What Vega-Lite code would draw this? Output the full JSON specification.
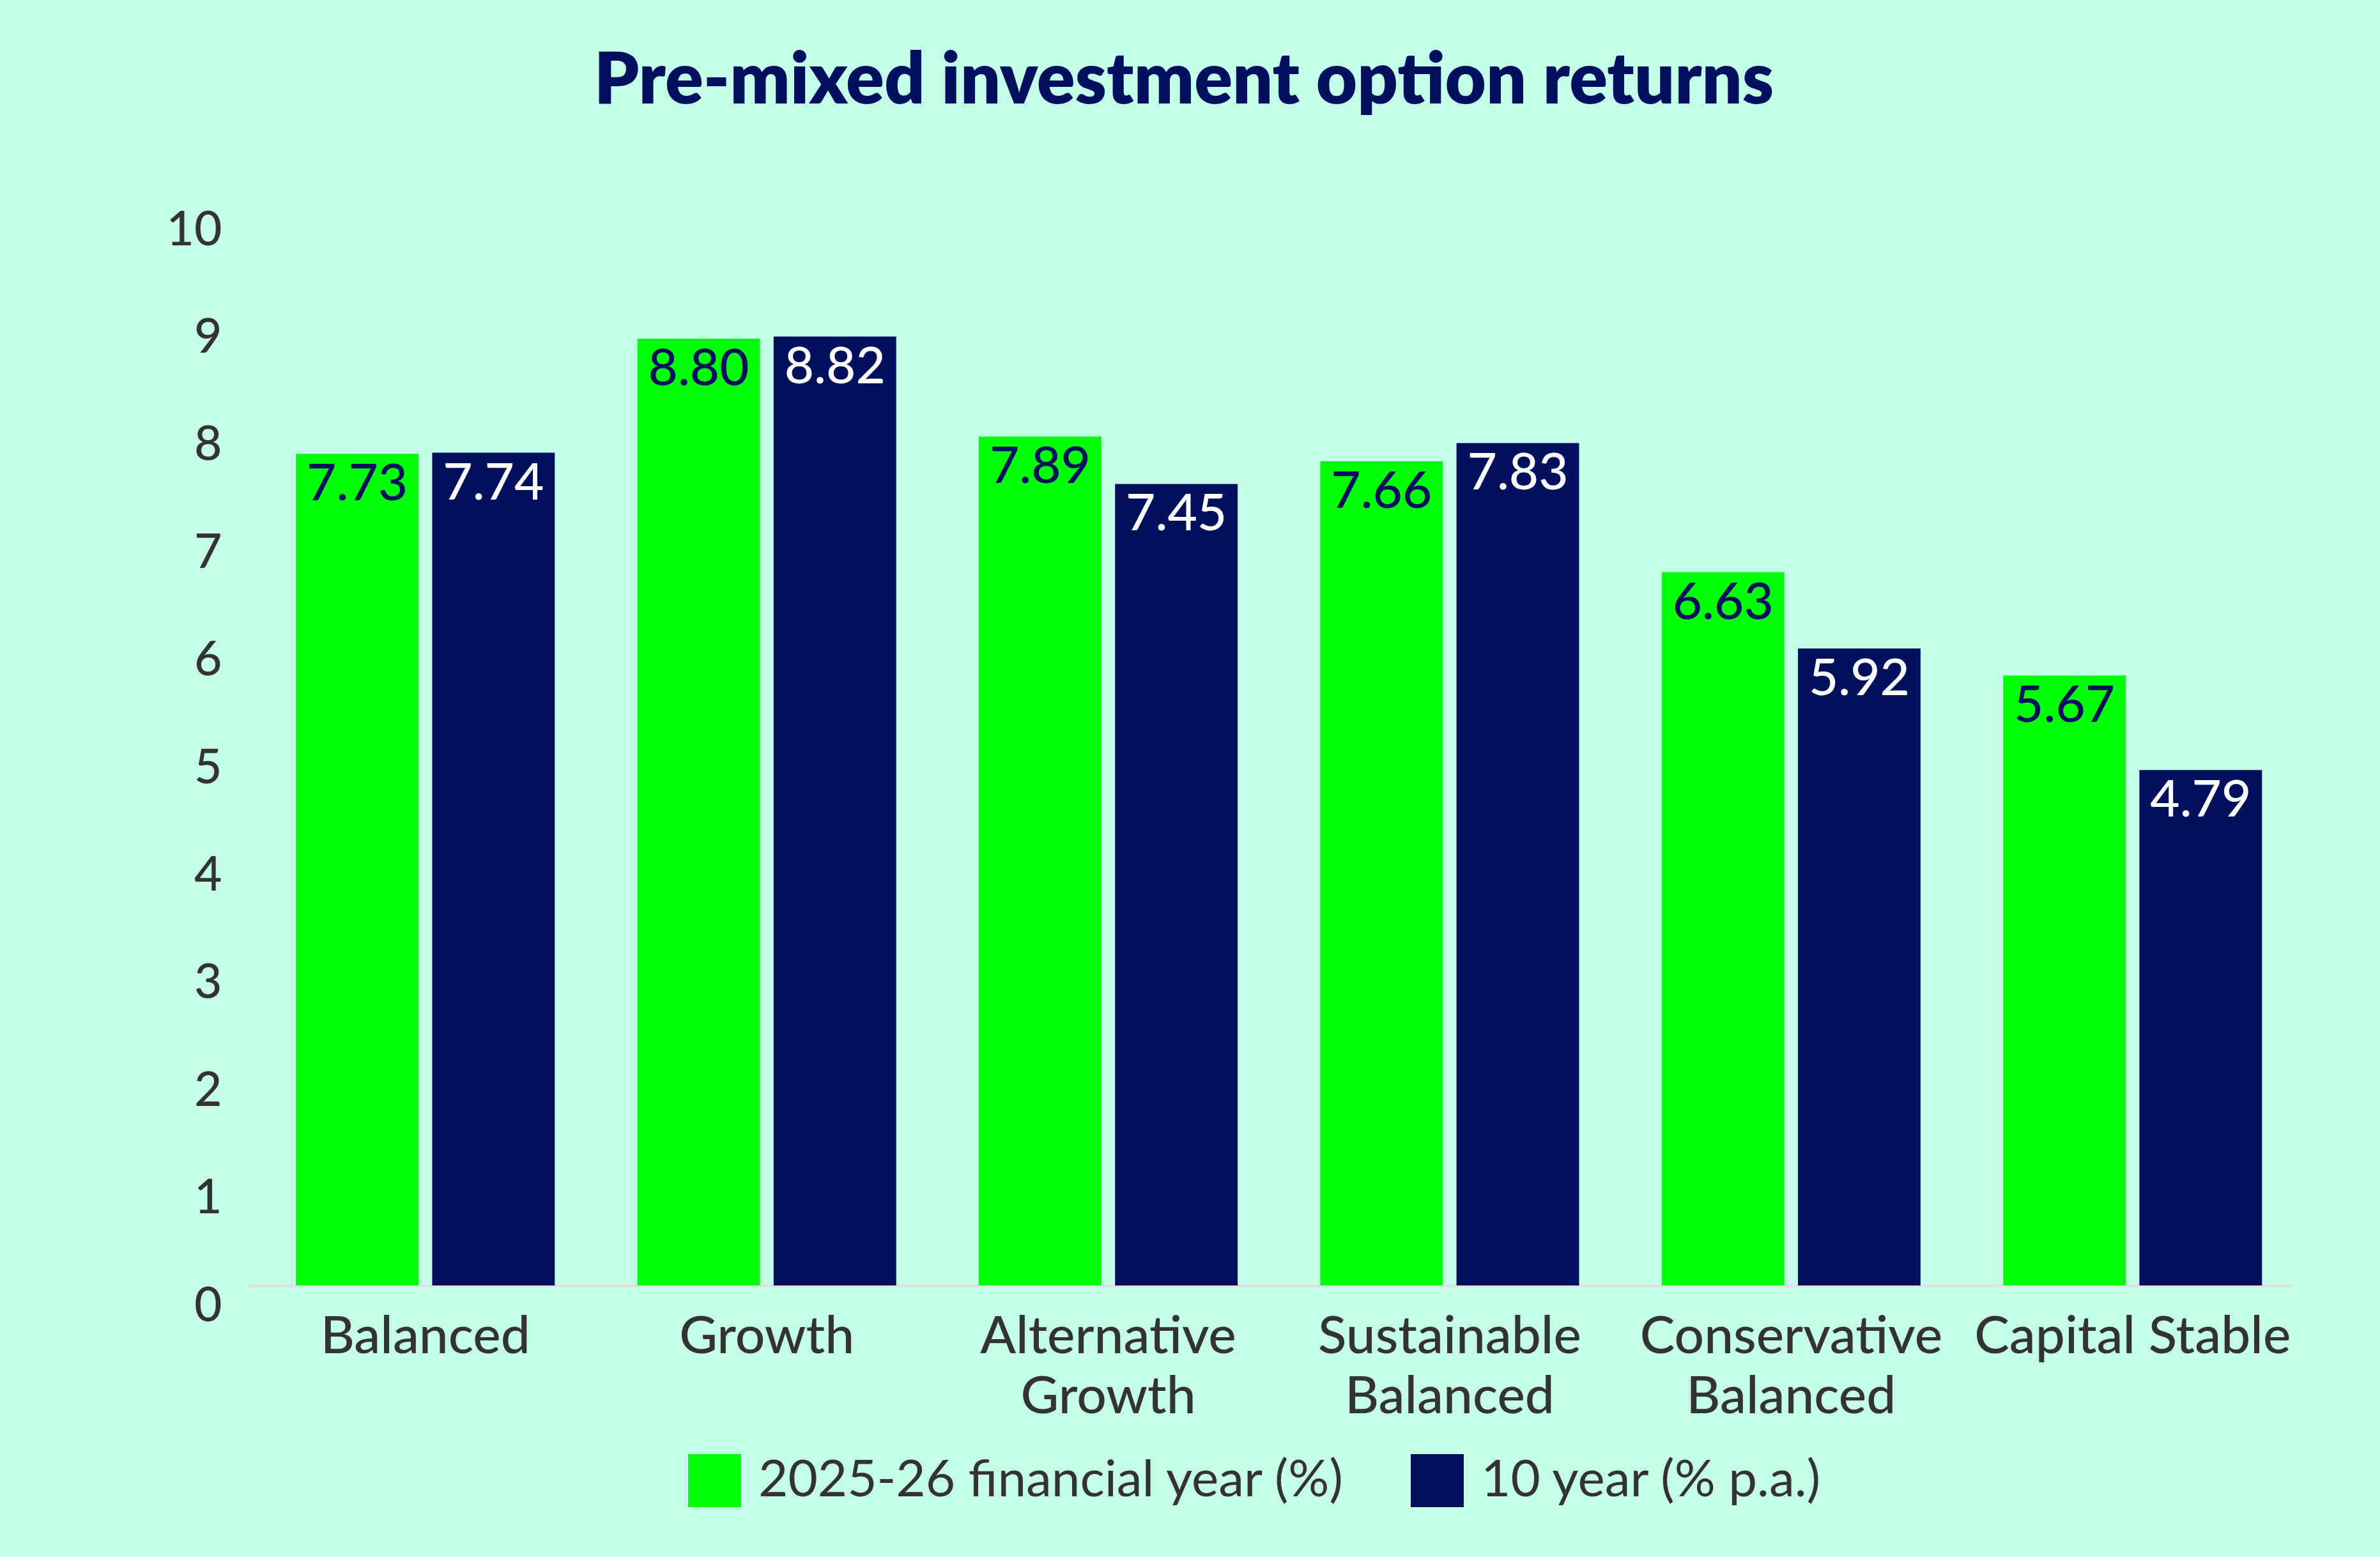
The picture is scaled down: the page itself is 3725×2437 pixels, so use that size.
{
  "$schema": "https://vega.github.io/schema/vega-lite/v6.json",
  "autosize": "none",
  "width": 3200,
  "height": 1684,
  "padding": {"left": 387, "top": 328, "right": 138, "bottom": 425},
  "background": "#c4fde8",
  "config": {
    "view": {"stroke": null},
    "font": "Lato"
  },
  "title": {
    "text": "Pre-mixed investment option returns",
    "font": "Lato",
    "fontSize": 111,
    "fontWeight": 800,
    "color": "#00105f",
    "anchor": "middle",
    "baseline": "alphabetic",
    "offset": 50,
    "dx": -134
  },
  "data": {
    "values": [
      {"option": "Balanced", "series": "2025-26 financial year (%)", "value": 7.73},
      {"option": "Balanced", "series": "10 year (% p.a.)", "value": 7.74},
      {"option": "Growth", "series": "2025-26 financial year (%)", "value": 8.80},
      {"option": "Growth", "series": "10 year (% p.a.)", "value": 8.82},
      {"option": "Alternative Growth", "series": "2025-26 financial year (%)", "value": 7.89},
      {"option": "Alternative Growth", "series": "10 year (% p.a.)", "value": 7.45},
      {"option": "Sustainable Balanced", "series": "2025-26 financial year (%)", "value": 7.66},
      {"option": "Sustainable Balanced", "series": "10 year (% p.a.)", "value": 7.83},
      {"option": "Conservative Balanced", "series": "2025-26 financial year (%)", "value": 6.63},
      {"option": "Conservative Balanced", "series": "10 year (% p.a.)", "value": 5.92},
      {"option": "Capital Stable", "series": "2025-26 financial year (%)", "value": 5.67},
      {"option": "Capital Stable", "series": "10 year (% p.a.)", "value": 4.79}
    ]
  },
  "encoding": {
    "x": {
      "field": "option",
      "type": "nominal",
      "sort": null,
      "scale": {"paddingInner": 0.242, "paddingOuter": 0.115, "align": 0.62},
      "axis": {
        "title": null,
        "labelAngle": 0,
        "labelExpr": "datum.label == 'Capital Stable' ? datum.label : split(datum.label, ' ')",
        "labelFont": "Lato",
        "labelFontSize": 82,
        "labelFontWeight": 500,
        "labelColor": "#333333",
        "labelLineHeight": 94,
        "labelBaseline": "top",
        "labelPadding": 40,
        "labelLimit": 1000,
        "ticks": false,
        "domainColor": "#e0e0e0",
        "domainWidth": 4,
        "grid": false
      }
    },
    "xOffset": {
      "field": "series",
      "type": "nominal",
      "sort": ["2025-26 financial year (%)", "10 year (% p.a.)"],
      "scale": {"paddingInner": 0.1, "paddingOuter": 0}
    },
    "y": {
      "field": "value",
      "type": "quantitative",
      "scale": {"domain": [0, 10], "nice": false},
      "axis": {
        "title": null,
        "values": [0, 1, 2, 3, 4, 5, 6, 7, 8, 9, 10],
        "labelFont": "Lato",
        "labelFontSize": 75,
        "labelFontWeight": 500,
        "labelColor": "#333333",
        "labelBaseline": "top",
        "labelOffset": -4,
        "labelPadding": 40,
        "domain": false,
        "ticks": false,
        "grid": false
      }
    }
  },
  "layer": [
    {
      "mark": {"type": "bar"},
      "encoding": {
        "color": {
          "field": "series",
          "type": "nominal",
          "sort": ["2025-26 financial year (%)", "10 year (% p.a.)"],
          "scale": {"range": ["#00ff0a", "#00105f"]},
          "legend": {
            "title": null,
            "orient": "none",
            "legendX": 690,
            "legendY": 1948,
            "direction": "horizontal",
            "symbolType": "square",
            "symbolSize": 6889,
            "symbolStrokeWidth": 0,
            "symbolOpacity": 1,
            "labelFont": "Lato",
            "labelFontSize": 80,
            "labelFontWeight": 400,
            "labelColor": "#333333",
            "labelOffset": 27,
            "labelLimit": 2000,
            "columnPadding": 102
          }
        }
      }
    },
    {
      "mark": {
        "type": "text",
        "baseline": "top",
        "dy": 10,
        "font": "Lato",
        "fontSize": 80,
        "fontWeight": 500
      },
      "encoding": {
        "text": {"field": "value", "type": "quantitative", "format": ".2f"},
        "color": {
          "condition": {"test": "datum.series === '10 year (% p.a.)'", "value": "#ffffff"},
          "value": "#00105f"
        }
      }
    }
  ]
}
